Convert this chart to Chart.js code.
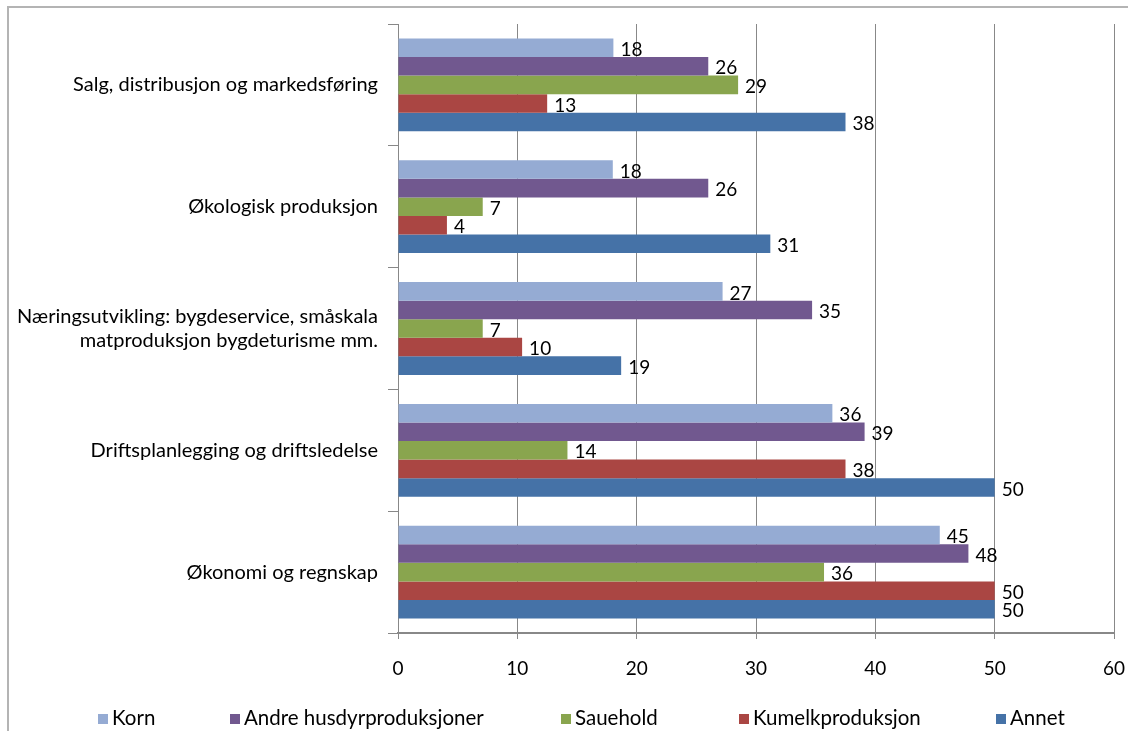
<!DOCTYPE html>
<html>
<head>
<meta charset="utf-8">
<script src="https://cdn.jsdelivr.net/npm/chart.js@4.4.1/dist/chart.umd.min.js"></script>
<style>
  body { margin: 0; background: #fff; }
  #wrap { position: relative; width: 1128px; height: 731px; overflow: hidden; font-family: Lato, "Open Sans", sans-serif; }
  #frame { position: absolute; left: 7px; top: 6px; width: 1200px; height: 800px;
           border-top: 2px solid #b4b4b4; border-left: 2px solid #b4b4b4; }
  #chart { position: absolute; left: 0; top: 0; }
  .leg { position: absolute; top: 705px; font-size: 20.5px; line-height: 24px; color: #000; white-space: nowrap; }
  .leg i { display: inline-block; width: 10px; height: 10px; margin-right: 4px; vertical-align: 1px; }
</style>
</head>
<body>
<div id="wrap">
  <div id="frame"></div>
  <canvas id="chart" width="1128" height="731"></canvas>
</div>
<script>
var categories = [
    "Salg, distribusjon og markedsføring",
    "Økologisk produksjon",
    ["Næringsutvikling: bygdeservice, småskala", "matproduksjon bygdeturisme mm."],
    "Driftsplanlegging og driftsledelse",
    "Økonomi og regnskap"
];
var seriesNames = ["Korn", "Andre husdyrproduksjoner", "Sauehold", "Kumelkproduksjon", "Annet"];
var korn     = [18.05, 18.0, 27.2, 36.4, 45.4];
var andre    = [26.0, 26.0, 34.7, 39.1, 47.8];
var sauehold = [28.5, 7.1, 7.1, 14.2, 35.7];
var kumelk   = [12.5, 4.1, 10.4, 37.5, 50];
var annet    = [37.5, 31.2, 18.7, 50, 50];

var colors = ['#95abd3', '#71588f', '#89a54e', '#aa4643', '#4572a7'];
var legendX = [98, 230, 561, 739, 996];
var fontFam = 'Lato, "Open Sans", sans-serif';

// verdier ved enden av hver stolpe
var valueLabels = {
    id: 'valueLabels',
    afterDatasetsDraw: function(chart) {
        var ctx = chart.ctx;
        ctx.save();
        ctx.font = '19px ' + fontFam;
        ctx.fillStyle = '#000';
        ctx.textAlign = 'left';
        ctx.textBaseline = 'middle';
        chart.data.datasets.forEach(function(ds, i) {
            chart.getDatasetMeta(i).data.forEach(function(bar, j) {
                ctx.fillText(Math.round(ds.data[j]), bar.x + 7, bar.y + 2);
            });
        });
        ctx.restore();
    }
};

var allData = [korn, andre, sauehold, kumelk, annet];
var datasets = seriesNames.map(function(name, i) {
    return {
        label: name,
        data: allData[i],
        backgroundColor: colors[i],
        borderWidth: 0,
        categoryPercentage: 0.762,
        barPercentage: 1.0
    };
});

var chart = new Chart(document.getElementById('chart'), {
    type: 'bar',
    data: { labels: categories, datasets: datasets },
    plugins: [valueLabels],
    options: {
        indexAxis: 'y',
        responsive: false,
        animation: false,
        layout: { padding: { top: 24, right: 14, left: 0, bottom: 40 } },
        scales: {
            x: {
                min: 0, max: 60,
                afterFit: function(s) { s.height = 58; s.paddingLeft = 0; s.paddingRight = 0; },
                grid: { color: '#888', lineWidth: 1, tickLength: 6 },
                border: { color: '#888', width: 2 },
                ticks: { stepSize: 10, color: '#000', padding: 18, font: { family: fontFam, size: 19 } }
            },
            y: {
                afterFit: function(s) { s.width = 398; },
                grid: { drawOnChartArea: false, color: '#888', tickLength: 10, offset: true },
                border: { color: '#888', width: 1 },
                ticks: { color: '#000', padding: 10, font: { family: fontFam, size: 20 } }
            }
        },
        plugins: {
            legend: { display: false },
            tooltip: { enabled: false }
        }
    }
});

// forklaring under diagrammet
var wrap = document.getElementById('wrap');
chart.data.datasets.forEach(function(ds, i) {
    var d = document.createElement('div');
    d.className = 'leg';
    d.style.left = legendX[i] + 'px';
    d.innerHTML = '<i style="background:' + ds.backgroundColor + '"></i>';
    d.appendChild(document.createTextNode(ds.label));
    wrap.appendChild(d);
});
</script>
</body>
</html>
